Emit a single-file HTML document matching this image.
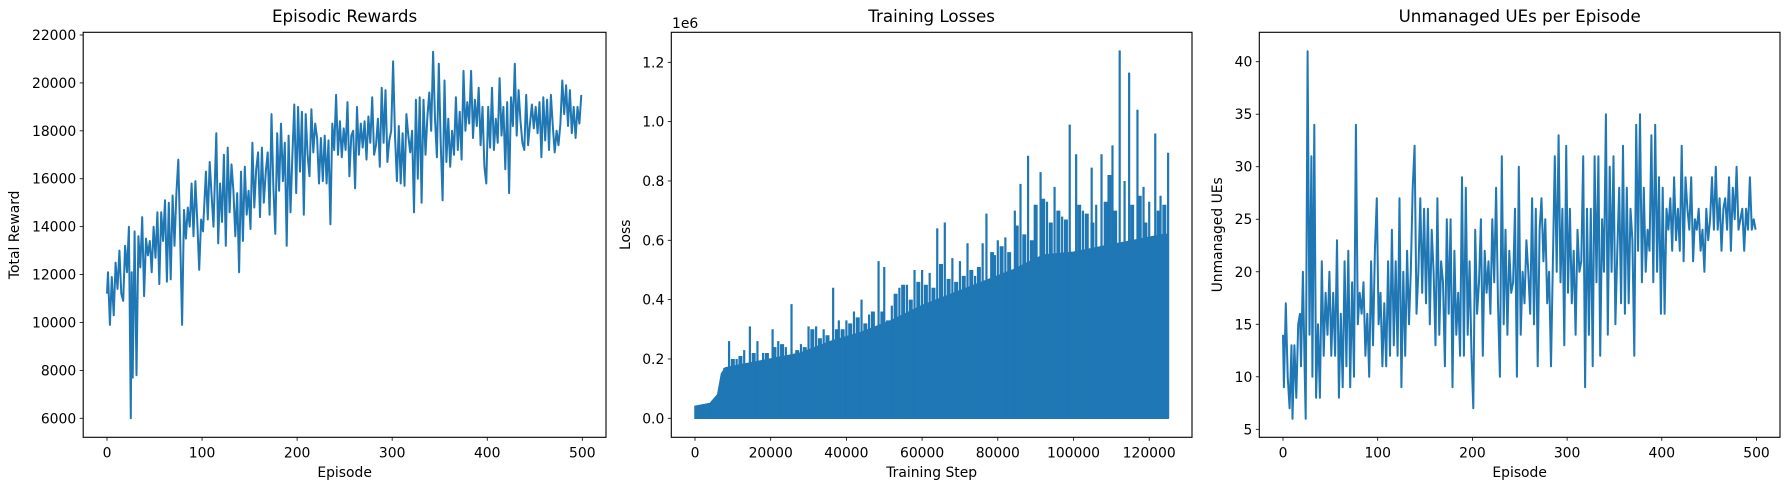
<!DOCTYPE html>
<html><head><meta charset="utf-8">
<style>
html,body{margin:0;padding:0;background:#fff;}
svg{display:block;font-family:"DejaVu Sans","Liberation Sans",sans-serif;}
</style></head>
<body>
<svg id="fig" width="1789" height="490" viewBox="0 0 1789 490" xmlns="http://www.w3.org/2000/svg"></svg>
<script>
// ---- Panel 1 data: episodic rewards ----
const rewardEpisodes = [0,1,3,5,7,9,11,13,15,17,19,21,23,25,26,27,29,31,33,35,37,39,41,43,45,47,49,51,53,55,57,59,61,63,65,67,69,71,73,75,77,79,81,83,85,87,89,91,93,95,97,99,101,104,106,108,110,112,115,117,119,121,123,125,127,129,131,133,135,137,139,141,143,145,147,149,151,153,155,157,159,161,163,165,167,169,171,173,175,177,179,181,183,185,187,189,191,193,195,197,199,201,203,205,207,209,211,213,215,217,219,221,223,225,227,229,231,233,235,237,239,241,243,245,247,249,251,253,255,257,259,261,263,265,267,269,271,273,275,277,279,281,283,285,287,289,291,293,295,297,299,301,303,305,307,309,311,313,315,317,319,321,323,325,327,329,331,333,335,337,339,341,343,345,347,349,351,353,355,357,359,361,363,365,367,369,371,373,375,377,379,381,383,385,387,389,391,393,395,397,399,401,403,405,407,409,411,413,415,417,419,421,423,425,427,429,431,433,435,437,439,441,443,445,447,449,451,453,455,457,459,461,463,465,467,469,471,473,475,477,479,481,483,485,487,489,491,493,495,497,499];
const rewardValues = [11200,12100,9900,11900,10300,12500,11400,13000,11200,10900,13200,12100,14000,6000,12100,7700,13800,7800,13600,12300,14400,11100,13500,12800,13400,12100,14000,12700,14600,11600,14600,13400,15100,11700,15000,11800,15300,13200,15400,16800,13500,9900,14700,13500,14800,14000,15800,13600,15900,14200,12200,14300,13800,16300,14300,16700,15300,14000,17900,13300,15800,14200,17000,13200,17300,14600,16600,15500,13600,15400,12100,16300,13400,16500,14500,15500,13900,17500,14800,16400,17100,14400,17300,15000,16300,17100,14500,18700,15600,13700,17900,15500,18300,15900,17500,13200,17800,14600,17000,19100,15400,19000,16300,18800,14500,18700,17000,16100,18900,17100,18300,17700,15800,17700,15900,17800,15800,17600,14100,18300,17200,19500,17000,18400,16900,18100,17200,19200,16100,17800,18000,15600,19000,17000,18300,17300,18400,16800,18600,17500,19400,17000,17400,18500,16500,19800,17500,19700,16700,17600,18000,20900,17800,15900,18200,15800,17900,15700,18700,17800,17100,18000,14600,19300,16000,19400,15000,19300,17000,18600,19600,18000,21300,18500,16900,20800,17500,15100,20100,16700,18500,16500,18000,17000,19400,17200,18800,16800,20500,18000,19200,18300,20500,17700,19300,18200,19800,17400,19000,16500,15800,19000,17300,19800,17200,18500,17500,20200,17800,19000,16400,19200,15400,19400,18200,20800,17800,19700,18400,17500,17200,19500,17400,18300,19100,18100,19000,17900,19200,16900,19400,17600,19300,17200,19500,18200,17100,18000,17400,18300,20100,18700,19900,18200,19700,17900,19000,17700,19000,18300,19500];
const rewardXTicks = [0,100,200,300,400,500];
const rewardYTicks = [6000,8000,10000,12000,14000,16000,18000,20000,22000];

// ---- Panel 2 data: training losses (in units of 1e6) ----
const lossBodySteps = [0,4000,6000,7000,8000,12000,20000,28000,36000,44000,52000,60000,68000,76000,84000,92000,100000,108000,116000,124000,125000];
const lossBodyValues = [0.04,0.05,0.08,0.15,0.17,0.18,0.2,0.22,0.26,0.29,0.33,0.38,0.42,0.46,0.5,0.55,0.56,0.58,0.6,0.62,0.62];
const lossSpikeSteps = [2000,4000,6000,9000,11000,13000,14500,16500,18000,20500,22000,24000,25500,28000,30000,32000,34000,36500,38000,40000,42000,44000,46000,48500,50000,52000,54000,56000,58000,60000,62000,64000,66000,68000,70000,72000,74000,76000,77000,80000,82000,84500,86000,88000,91300,93000,95000,97000,99000,100700,102500,104800,106000,107400,110300,112200,113500,114700,116900,118500,120000,121600,123000,125000];
const lossSpikeValues = [0.045,0.05,0.08,0.26,0.2,0.23,0.31,0.26,0.22,0.3,0.26,0.24,0.385,0.25,0.31,0.31,0.3,0.44,0.33,0.33,0.36,0.4,0.35,0.53,0.51,0.38,0.44,0.45,0.5,0.5,0.49,0.64,0.66,0.54,0.53,0.59,0.48,0.59,0.69,0.6,0.61,0.7,0.79,0.885,0.83,0.73,0.78,0.68,0.99,0.89,0.7,0.845,0.72,0.89,0.92,1.24,0.8,1.165,1.04,0.78,0.73,0.96,0.75,0.895];
const lossMidSteps = [8000,10000,12000,15500,17000,19000,21000,23000,27000,29000,31000,33000,35000,37500,39000,41000,43000,45000,47000,49500,51000,53000,55000,57000,59000,61000,63000,65000,67000,69000,71000,73000,75000,78500,79000,81000,83000,85000,87000,89000,90000,92000,94000,96000,98000,101500,103500,105000,108500,109500,111000,115500,117500,119000,122500,124000];
const lossMidValues = [0.17,0.2,0.21,0.22,0.19,0.22,0.24,0.25,0.23,0.24,0.3,0.27,0.28,0.3,0.3,0.32,0.34,0.32,0.36,0.36,0.33,0.42,0.45,0.4,0.46,0.45,0.44,0.52,0.47,0.46,0.48,0.5,0.51,0.56,0.55,0.58,0.56,0.65,0.62,0.6,0.72,0.74,0.66,0.7,0.67,0.72,0.69,0.66,0.73,0.82,0.7,0.72,0.75,0.66,0.7,0.72];
const lossXTicks = [0,20000,40000,60000,80000,100000,120000];
const lossYTicks = [0,0.2,0.4,0.6,0.8,1.0,1.2];

// ---- Panel 3 data: unmanaged UEs ----
const ueEpisodes = [0,1,3,5,7,9,10,12,14,16,18,19,21,23,24,26,28,30,31,33,35,37,39,41,43,45,47,49,51,53,55,57,59,61,63,65,67,69,71,73,75,77,79,81,83,85,87,89,91,93,95,97,99,101,103,105,107,109,111,113,115,117,119,121,123,125,127,129,131,133,135,137,139,141,143,145,147,149,151,153,155,157,159,161,163,165,167,169,171,173,175,177,179,181,183,185,187,189,191,193,195,197,199,201,203,205,207,209,211,213,215,217,219,221,223,225,227,229,231,233,235,237,239,241,243,245,247,249,251,253,255,257,259,261,263,265,267,269,271,273,275,277,279,281,283,285,287,289,291,293,295,297,299,301,303,305,307,309,311,313,315,317,319,321,323,325,327,329,331,333,335,337,339,341,343,345,347,349,351,353,355,357,359,361,363,365,367,369,371,373,375,377,379,381,383,385,387,389,391,393,395,397,399,401,403,405,407,409,411,413,415,417,419,421,423,425,427,429,431,433,435,437,439,441,443,445,447,449,451,453,455,457,459,461,463,465,467,469,471,473,475,477,479,481,483,485,487,489,491,493,495,497,499];
const ueValues = [14,9,17,10,7,13,6,13,8,15,16,11,20,10,6,41,14,31,10,34,8,15,8,21,12,18,14,20,12,18,12,23,8,16,9,21,11,22,9,19,10,34,15,18,16,19,12,16,10,21,13,22,27,15,18,11,17,11,21,12,24,13,21,12,27,9,20,12,22,15,20,28,32,16,20,27,18,26,17,26,15,24,20,13,27,14,21,19,11,25,16,25,9,22,14,18,12,29,12,28,14,21,12,7,24,16,19,25,12,22,18,21,16,25,19,28,17,10,31,15,24,14,22,18,19,26,10,30,14,20,17,23,20,16,27,15,26,11,24,27,21,25,17,20,11,21,31,20,33,19,26,13,32,18,26,17,22,14,24,20,21,31,9,26,14,26,11,31,19,31,12,25,20,35,14,30,20,31,15,22,28,17,32,16,28,17,26,23,12,34,22,35,19,28,20,24,22,33,19,34,20,29,16,28,16,26,24,27,22,29,23,26,22,32,21,29,26,24,29,21,25,24,26,22,24,20,26,23,25,29,24,30,24,27,22,26,27,24,29,22,28,25,30,24,25,26,22,26,24,29,24,25,24];
const ueXTicks = [0,100,200,300,400,500];
const ueYTicks = [5,10,15,20,25,30,35,40];

const NS = "http://www.w3.org/2000/svg";
const svg = document.getElementById('fig');
const COLOR = "#1f77b4";
function mk(tag, attrs, parent){
  const e = document.createElementNS(NS, tag);
  for (const k in attrs) e.setAttribute(k, attrs[k]);
  (parent||svg).appendChild(e);
  return e;
}
function lin(d0,p0,d1,p1){ return v => p0 + (v-d0)*(p1-p0)/(d1-d0); }

function axes(cfg){
  const g = mk('g',{});
  
  
  const t = mk('text',{x:(cfg.L+cfg.R)/2, y:22, 'text-anchor':'middle','font-size':'16.7',fill:'#000'}, g);
  t.textContent = cfg.title;
  
  
  cfg.xTicks.forEach(v=>{
    const x = cfg.xs(v);
    const tk = mk('line',{x1:x,x2:x,y1:cfg.B,y2:cfg.B+3.5,stroke:'#000','stroke-width':0.8}, g);
    
    
    const lb = mk('text',{x:x,y:cfg.B+20,'text-anchor':'middle','font-size':'13.9',fill:'#000'}, g);
    lb.textContent = cfg.xFmt ? cfg.xFmt(v) : String(v);
    
    
  });
  cfg.yTicks.forEach(v=>{
    const y = cfg.ys(v);
    const tk = mk('line',{x1:cfg.L-3.5,x2:cfg.L,y1:y,y2:y,stroke:'#000','stroke-width':0.8}, g);
    
    
    const lb = mk('text',{x:cfg.L-7,y:y+5,'text-anchor':'end','font-size':'13.9',fill:'#000'}, g);
    lb.textContent = cfg.yFmt ? cfg.yFmt(v) : String(v);
    
    
  });
  const xl = mk('text',{x:(cfg.L+cfg.R)/2,y:477,'text-anchor':'middle','font-size':'13.9',fill:'#000'}, g);
  xl.textContent = cfg.xLabel;
  
  
  const yx = cfg.yLabelX, yy = (cfg.T+cfg.B)/2;
  const yl = mk('text',{x:yx,y:yy,'text-anchor':'middle','font-size':'13.9',fill:'#000',transform:`rotate(-90 ${yx} ${yy})`}, g);
  yl.textContent = cfg.yLabel;
  
  
  return g;
}
function frame(cfg, g){
  const r = mk('rect',{x:cfg.L,y:cfg.T,width:cfg.R-cfg.L,height:cfg.B-cfg.T,fill:'none',stroke:'#000','stroke-width':1.1}, g);
  
  
}

// Panel 1
const p1 = {name:'rewards-panel',title:'Episodic Rewards',L:83.2,R:606,T:32.3,B:437.3,
  xs:lin(0,107,500,582.3), ys:lin(6000,418.3,22000,35),
  xTicks:rewardXTicks,yTicks:rewardYTicks,xLabel:'Episode',yLabel:'Total Reward',yLabelX:19};
const g1 = axes(p1);
const line1 = mk('polyline',{points:rewardEpisodes.map((e,i)=>p1.xs(e).toFixed(1)+','+p1.ys(rewardValues[i]).toFixed(1)).join(' '),fill:'none',stroke:COLOR,'stroke-width':2,'stroke-linejoin':'round'}, g1);


frame(p1,g1);

// Panel 2
const p2 = {name:'losses-panel',title:'Training Losses',L:671.3,R:1192,T:32.3,B:437.3,
  xs:lin(0,695,20000,770.7), ys:lin(0,418.3,1.2,62.3),
  xTicks:lossXTicks,yTicks:lossYTicks,xLabel:'Training Step',yLabel:'Loss',yLabelX:630,
  yFmt:v=>v.toFixed(1)};
const g2 = axes(p2);
const off = mk('text',{x:672,y:28,'font-size':'13.9',fill:'#000'}, g2);
off.textContent = '1e6';


let pts = lossBodySteps.map((s,i)=>p2.xs(s).toFixed(1)+','+p2.ys(lossBodyValues[i]).toFixed(1));
pts.push(p2.xs(lossBodySteps[lossBodySteps.length-1]).toFixed(1)+','+p2.ys(0).toFixed(1));
pts.push(p2.xs(0).toFixed(1)+','+p2.ys(0).toFixed(1));
const body = mk('polygon',{points:pts.join(' '),fill:COLOR,stroke:COLOR,'stroke-width':1.5}, g2);


lossMidSteps.forEach((s,i)=>{
  const x = p2.xs(s);
  const sp = mk('line',{x1:x,x2:x,y1:p2.ys(0),y2:p2.ys(lossMidValues[i]),stroke:COLOR,'stroke-width':4}, g2);
  
  
});
lossSpikeSteps.forEach((s,i)=>{
  const x = p2.xs(s);
  const sp = mk('line',{x1:x,x2:x,y1:p2.ys(0),y2:p2.ys(lossSpikeValues[i]),stroke:COLOR,'stroke-width':2.2}, g2);
  
  
});
frame(p2,g2);

// Panel 3
const p3 = {name:'unmanaged-panel',title:'Unmanaged UEs per Episode',L:1259.3,R:1780,T:32.3,B:437.3,
  xs:lin(0,1283,100,1377.7), ys:lin(5,429.3,40,61.7),
  xTicks:ueXTicks,yTicks:ueYTicks,xLabel:'Episode',yLabel:'Unmanaged UEs',yLabelX:1222};
const g3 = axes(p3);
const line3 = mk('polyline',{points:ueEpisodes.map((e,i)=>p3.xs(e).toFixed(1)+','+p3.ys(ueValues[i]).toFixed(1)).join(' '),fill:'none',stroke:COLOR,'stroke-width':2,'stroke-linejoin':'round'}, g3);


frame(p3,g3);
</script>
</body></html>
